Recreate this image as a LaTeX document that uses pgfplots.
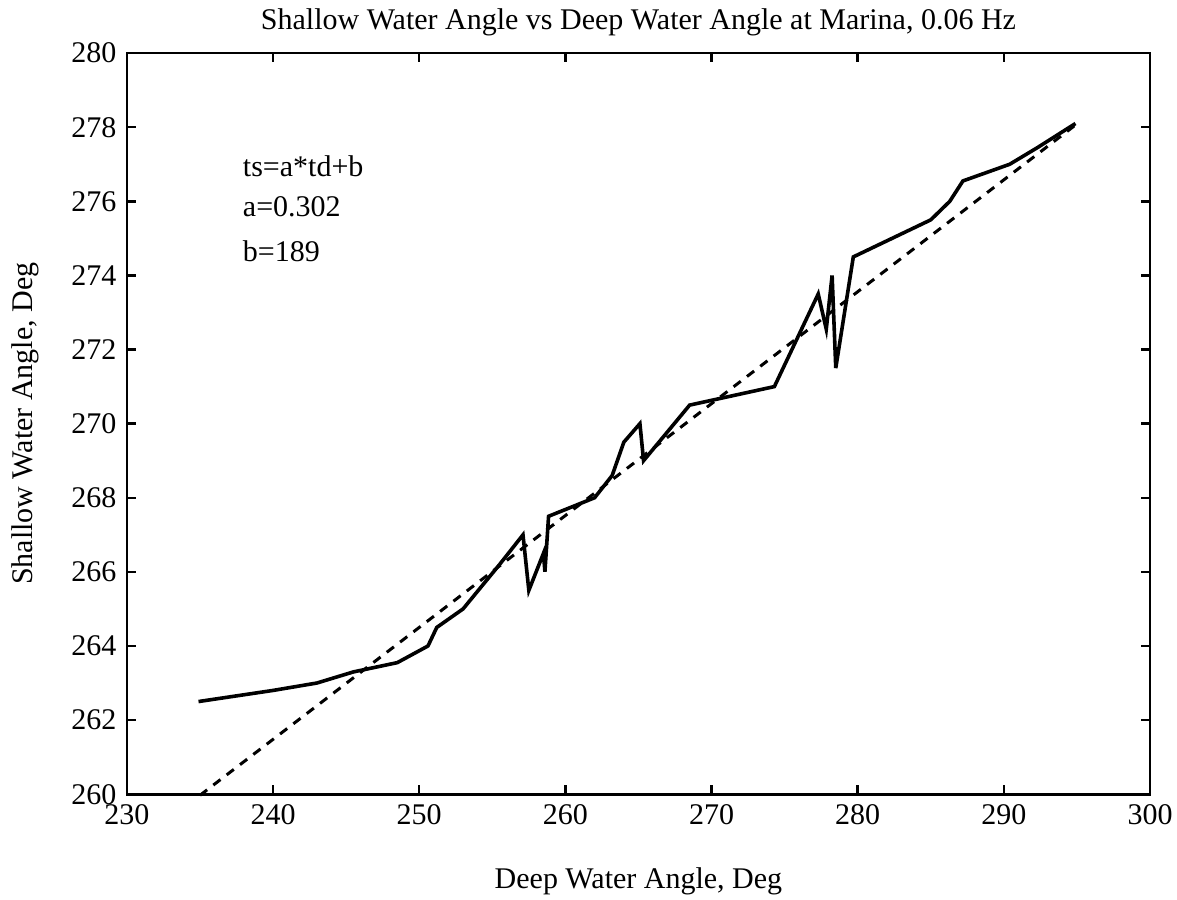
\documentclass[border=0pt]{standalone}
\usepackage{fontspec}
\setmainfont{Liberation Serif}
\usepackage{pgfplots}
\pgfplotsset{compat=1.18}
\begin{document}
\begin{tikzpicture}
\begin{axis}[
  name=ax,
  scale only axis,
  width=341pt, height=247pt,
  xmin=230, xmax=300, ymin=260, ymax=280,
  xtick={230,240,...,300}, ytick={260,262,...,280},
  tick align=inside,
  major tick length=3pt,
  minor tick num=0,
  axis line style={line width=0.9pt},
  every tick/.style={black, line width=0.8pt},
  /pgf/number format/assume math mode=true,
  /pgf/number format/1000 sep={},
  ticklabel style={font=\fontsize{10}{12}\selectfont},
  clip=false,
]
\addplot[black, line width=1.2pt, line join=miter] coordinates {
(234.9,262.5) (240.0,262.8) (243.0,263.0) (245.5,263.3) (248.5,263.55)
(250.6,264.0) (251.2,264.5) (253.0,265.0) (255.5,266.2) (257.1,267.0)
(257.5,265.5) (258.5,266.5) (258.6,266.0) (258.85,267.5) (262.0,268.0)
(263.2,268.6) (264.0,269.5) (265.1,270.0) (265.35,269.0) (268.5,270.5)
(274.3,271.0) (277.3,273.5) (277.85,272.55) (278.25,274.0) (278.5,271.5)
(279.7,274.5) (285.0,275.5) (286.3,276.0) (287.2,276.55) (290.4,277.0)
(292.3,277.45) (294.9,278.1)
};
\addplot[black, line width=1pt, dash pattern=on 3pt off 2.6pt] coordinates {
(235,259.97) (295,278.09)
};
\node[anchor=west, inner sep=0pt] at (axis cs:237.9,276.95) {ts=a*td+b};
\node[anchor=west, inner sep=0pt] at (axis cs:237.9,275.85) {a=0.302};
\node[anchor=west, inner sep=0pt] at (axis cs:237.9,274.65) {b=189};
\node[anchor=center] at ([yshift=10.4pt]rel axis cs:0.5,1) {Shallow Water Angle vs Deep Water Angle at Marina, 0.06 Hz};
\node[anchor=center] at ([yshift=-29pt]rel axis cs:0.5,0) {Deep Water Angle, Deg};
\node[anchor=center, rotate=90] at ([xshift=-34pt]rel axis cs:0,0.5) {Shallow Water Angle, Deg};
\end{axis}
\pgfresetboundingbox
\path[use as bounding box] ([xshift=-42.3pt,yshift=-35pt]ax.south west) rectangle ([xshift=9pt,yshift=17.7pt]ax.north east);
\end{tikzpicture}
\end{document}
